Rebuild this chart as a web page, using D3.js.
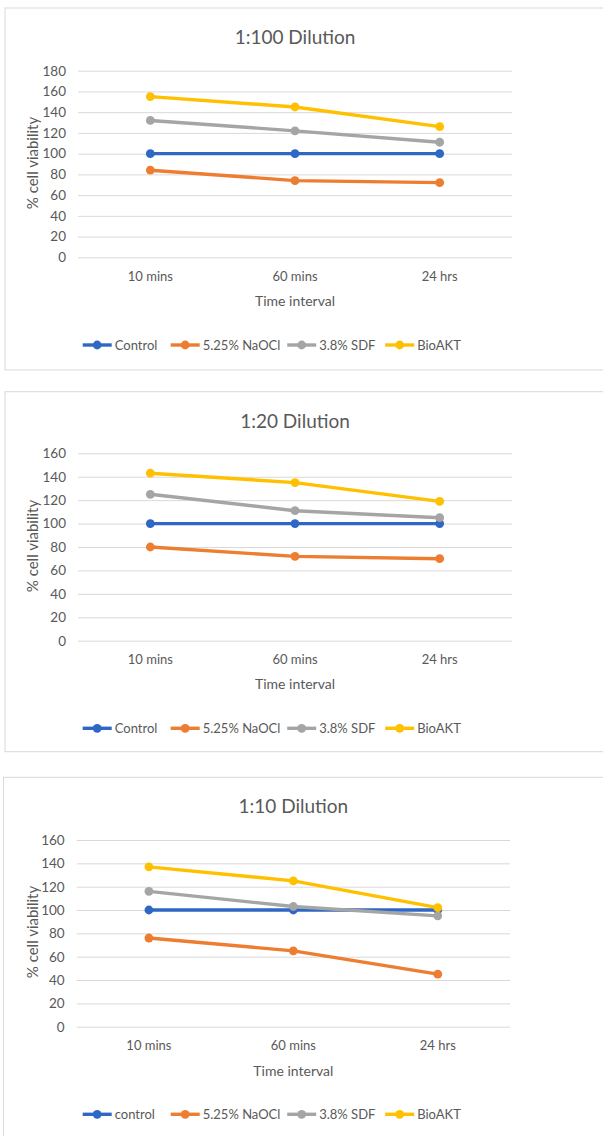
<!DOCTYPE html>
<html><head><meta charset="utf-8">
<script src="https://cdn.jsdelivr.net/npm/d3@7"></script>
<style>body{margin:0;background:#fff;} svg{display:block;font-family:Lato,"Open Sans",sans-serif;}</style>
</head><body>
<script>
const categories = ["10 mins", "60 mins", "24 hrs"];
const seriesNames = ["Control", "5.25% NaOCl", "3.8% SDF", "BioAKT"];
const seriesNamesLower = ["control", "5.25% NaOCl", "3.8% SDF", "BioAKT"];
const colors = ["#2F67C5", "#ED7D31", "#A5A5A5", "#FFC000"];
const titles = ["1:100 Dilution", "1:20 Dilution", "1:10 Dilution"];
const yTicks180 = [0, 20, 40, 60, 80, 100, 120, 140, 160, 180];
const yTicks160 = [0, 20, 40, 60, 80, 100, 120, 140, 160];

// 1:100 dilution
const control100 = [100, 100, 100];
const naocl100 = [84, 74, 72];
const sdf100 = [132, 122, 111];
const bioakt100 = [155, 145, 126];
// 1:20 dilution
const control20 = [100, 100, 100];
const naocl20 = [80, 72, 70];
const sdf20 = [125, 111, 105];
const bioakt20 = [143, 135, 119];
// 1:10 dilution
const control10 = [100, 100, 100];
const naocl10 = [76, 65, 45];
const sdf10 = [116, 103, 95];
const bioakt10 = [137, 125, 102];

const W = 603, H = 1136;
const svg = d3.select("body").append("svg").attr("width", W).attr("height", H);

const panels = [
  {title: titles[0], names: seriesNames, data: [control100, naocl100, sdf100, bioakt100], ticks: yTicks180,
   box: [5, 8, 640, 370], x0: 78, x1: 512, yTop: 70.7, yBot: 257.3, tickY: 277, axY: 301, legY: 345, labY: 163},
  {title: titles[1], names: seriesNames, data: [control20, naocl20, sdf20, bioakt20], ticks: yTicks160,
   box: [5, 391.7, 640, 751.7], x0: 78, x1: 512, yTop: 453.3, yBot: 640.7, tickY: 660, axY: 684.3, legY: 728.3, labY: 546},
  {title: titles[2], names: seriesNamesLower, data: [control10, naocl10, sdf10, bioakt10], ticks: yTicks160,
   box: [3.5, 777.3, 640, 1160], x0: 76.7, x1: 510, yTop: 840, yBot: 1026.7, tickY: 1046, axY: 1070.7, legY: 1114.3, labY: 932}
];

const legendOffsets = [0, 88, 204.5, 302.5];

panels.forEach(p => {
  const g = svg.append("g");
  g.append("rect").attr("x", p.box[0]).attr("y", p.box[1])
    .attr("width", p.box[2] - p.box[0]).attr("height", p.box[3] - p.box[1])
    .attr("fill", "#fff").attr("stroke", "#d9d9d9").attr("stroke-width", 1);

  const yMax = d3.max(p.ticks);
  const x = d3.scaleBand().domain(categories).range([p.x0, p.x1]);
  const y = d3.scaleLinear().domain([0, yMax]).range([p.yBot, p.yTop]);

  g.append("text").attr("x", (p.x0 + p.x1) / 2).attr("y", p.box[1] + 36)
    .attr("text-anchor", "middle").attr("font-size", 19).attr("fill", "#595959").text(p.title);

  const yAxis = d3.axisLeft(y).tickValues(p.ticks).tickSize(-(p.x1 - p.x0)).tickPadding(12);
  const ya = g.append("g").attr("transform", `translate(${p.x0},0)`).call(yAxis);
  ya.select(".domain").remove();
  ya.selectAll(".tick line").attr("stroke", "#d9d9d9").attr("stroke-width", 1);
  ya.selectAll(".tick text").attr("fill", "#595959").attr("font-size", 13.5).attr("font-family", "Lato, sans-serif");

  const xAxis = d3.axisBottom(x).tickSize(0).tickPadding(0);
  const xa = g.append("g").attr("transform", `translate(0,${p.tickY})`).call(xAxis);
  xa.select(".domain").remove();
  xa.selectAll(".tick text").attr("fill", "#595959").attr("font-size", 13).attr("dy", "0.32em")
    .attr("font-family", "Lato, sans-serif");

  g.append("text").attr("x", (p.x0 + p.x1) / 2).attr("y", p.axY).attr("dy", "0.35em")
    .attr("text-anchor", "middle").attr("font-size", 14).attr("fill", "#595959").text("Time interval");
  g.append("text").attr("transform", `translate(33,${p.labY}) rotate(-90)`).attr("dy", "0.35em")
    .attr("text-anchor", "middle").attr("font-size", 15).attr("fill", "#595959").text("% cell viability");

  const line = d3.line().x((d, i) => x(categories[i]) + x.bandwidth() / 2).y(d => y(d));
  p.data.forEach((s, k) => {
    g.append("path").datum(s).attr("d", line).attr("fill", "none")
      .attr("stroke", colors[k]).attr("stroke-width", 3.4).attr("stroke-linejoin", "round");
    g.selectAll(null).data(s).enter().append("circle")
      .attr("cx", (d, i) => x(categories[i]) + x.bandwidth() / 2).attr("cy", d => y(d))
      .attr("r", 4.4).attr("fill", colors[k]);
  });

  const lg = g.append("g").attr("transform", `translate(82.7,${p.legY})`);
  p.names.forEach((n, k) => {
    const it = lg.append("g").attr("transform", `translate(${legendOffsets[k]},0)`);
    it.append("line").attr("x1", 0).attr("x2", 29).attr("y1", 0).attr("y2", 0)
      .attr("stroke", colors[k]).attr("stroke-width", 3.4);
    it.append("circle").attr("cx", 14.5).attr("cy", 0).attr("r", 4.4).attr("fill", colors[k]);
    it.append("text").attr("x", 32).attr("y", 0).attr("dy", "0.35em").attr("font-size", 13)
      .attr("fill", "#595959").text(n);
  });
});
</script>
</body></html>
